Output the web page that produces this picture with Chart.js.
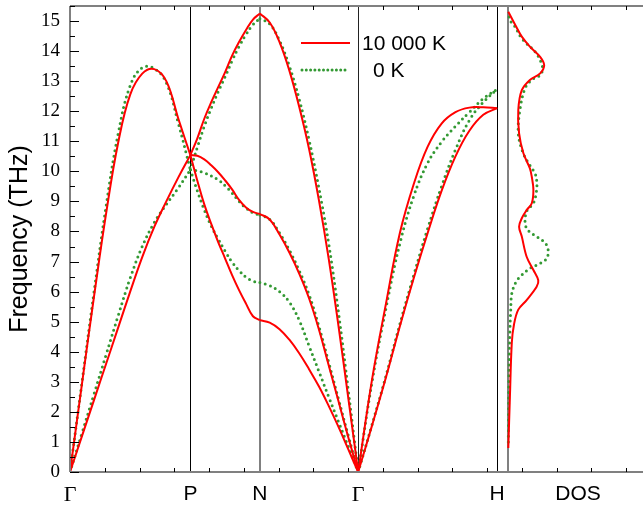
<!DOCTYPE html>
<html>
<head>
<meta charset="utf-8">
<script src="https://cdn.jsdelivr.net/npm/chart.js@4.4.0/dist/chart.umd.min.js"></script>
<style>
  html, body { margin: 0; padding: 0; background: #fff; }
  #wrap { width: 643px; height: 507px; }
</style>
</head>
<body>
<div id="wrap"><canvas id="chart" width="643" height="507"></canvas></div>
<script>
// path through the bcc zone: G-P-N-G-H (lengths in 2pi/a)
const K_POS = [0, 0.866, 1.366, 2.073, 3.073];
const K_LABELS = ['Γ', 'P', 'N', 'Γ', 'H'];
const DOS_LABEL = 'DOS';
const DOS_LABEL_POS = 3.655;
const DOS_X0 = 3.151;     // where the DOS panel starts on the path axis
const X_MAX = 4.122;
const DOS_AXIS_MAX = 5;
const Y_TICKS = [0, 1, 2, 3, 4, 5, 6, 7, 8, 9, 10, 11, 12, 13, 14, 15];
const Y_MAX = 15.5;
const LEGEND_LABELS = ['10 000 K', '0 K'];

// fraction along each segment for the sampled frequencies below
const T_FRAC = [0, 0.1, 0.2, 0.3, 0.4, 0.5, 0.6, 0.7, 0.8, 0.9, 1];

// 10 000 K (THz)
const HOT_GP = [
    [0, 2.95, 5.85, 8.6, 10.95, 12.55, 13.25, 13.4, 13.0, 11.75, 10.54],
    [0, 1.2, 2.4, 3.6, 4.8, 6.0, 7.15, 8.15, 9.0, 9.8, 10.54]
];
const HOT_PN = [
    [10.54, 11.1, 11.75, 12.3, 12.8, 13.3, 13.85, 14.3, 14.7, 15.05, 15.25],
    [10.54, 10.52, 10.4, 10.2, 9.97, 9.7, 9.4, 9.05, 8.8, 8.65, 8.58],
    [10.54, 9.69, 8.9, 8.25, 7.65, 7.1, 6.55, 6.05, 5.6, 5.18, 5.05]
];
const HOT_NG = [
    [15.25, 14.95, 14.3, 13.35, 12.15, 10.75, 9.05, 7.1, 4.85, 2.45, 0],
    [8.58, 8.4, 7.9, 7.3, 6.6, 5.78, 4.75, 3.55, 2.35, 1.15, 0],
    [5.05, 4.97, 4.75, 4.4, 3.95, 3.42, 2.85, 2.2, 1.5, 0.75, 0]
];
const HOT_GH = [
    [0, 3.08, 5.6, 7.95, 9.58, 10.82, 11.59, 11.97, 12.12, 12.13, 12.1],
    [0, 1.55, 3.15, 4.85, 6.45, 7.95, 9.35, 10.5, 11.35, 11.88, 12.1]
];

// 0 K (THz)
const COLD_GP = [
    [0, 3.0, 6.0, 8.85, 11.25, 12.85, 13.45, 13.42, 12.95, 11.6, 10.05],
    [0, 1.3, 2.6, 3.9, 5.2, 6.45, 7.5, 8.3, 8.9, 9.45, 10.05]
];
const COLD_PN = [
    [10.05, 10.8, 11.5, 12.1, 12.65, 13.15, 13.68, 14.15, 14.55, 14.88, 15.08],
    [10.05, 10.02, 9.95, 9.85, 9.72, 9.52, 9.28, 9.0, 8.78, 8.62, 8.55],
    [10.05, 9.35, 8.72, 8.18, 7.75, 7.35, 6.98, 6.7, 6.48, 6.35, 6.3]
];
const COLD_NG = [
    [15.08, 14.9, 14.35, 13.5, 12.4, 11.05, 9.45, 7.6, 5.3, 2.7, 0],
    [8.55, 8.4, 7.95, 7.38, 6.7, 5.9, 4.85, 3.65, 2.42, 1.2, 0],
    [6.3, 6.2, 6.0, 5.65, 5.05, 4.2, 3.35, 2.5, 1.67, 0.84, 0]
];
const COLD_GH = [
    [0, 3.0, 5.45, 7.6, 9.18, 10.28, 10.98, 11.5, 11.97, 12.42, 12.73],
    [0, 1.58, 3.2, 4.92, 6.55, 8.1, 9.5, 10.72, 11.7, 12.3, 12.73]
];

// phonon DOS (arb. units) vs frequency (THz)
const HOT_DOS_FREQ = [0.8, 2.5, 4.3, 4.9, 5.4, 5.72, 6.16, 6.38, 6.72, 7.16, 7.83, 8.16, 8.44, 8.71, 8.94, 9.38,
    9.82, 10.1, 10.6, 11.26, 12.04, 12.7, 13.04, 13.26, 13.53, 13.81, 14.15, 14.48, 14.8, 15.31];
const HOT_DOS = [0.01, 0.07, 0.14, 0.22, 0.38, 0.69, 1.06, 1.12, 0.94, 0.69, 0.51, 0.41, 0.51, 0.69, 0.88, 0.94,
    0.88, 0.81, 0.57, 0.41, 0.38, 0.51, 0.81, 1.19, 1.34, 1.19, 0.81, 0.51, 0.31, 0.01];
const COLD_DOS_FREQ = [1.0, 2.0, 3.0, 4.0, 4.72, 5.39, 5.94, 6.33, 6.55, 6.77, 6.94, 7.1, 7.33, 7.55, 7.72, 7.83,
    7.94, 8.1, 8.38, 8.71, 8.94, 9.38, 9.71, 9.93, 10.3, 10.65, 11.26, 12.04, 12.76, 13.05, 13.2, 13.43,
    13.7, 13.98, 14.42, 14.81, 15.03, 15.3];
const COLD_DOS = [0.01, 0.02, 0.03, 0.05, 0.07, 0.10, 0.14, 0.30, 0.51, 0.81, 1.19, 1.43, 1.49, 1.43, 1.25, 1.06,
    0.88, 0.69, 0.63, 0.71, 0.94, 1.06, 1.06, 1.0, 0.74, 0.54, 0.38, 0.44, 0.63, 0.89, 1.19, 1.28,
    1.19, 1.0, 0.51, 0.26, 0.07, 0.02];

const HOT_STYLE = { borderColor: '#ff0000', borderWidth: 2 };
const COLD_STYLE = { borderColor: '#339933', borderWidth: 3, borderDash: [0, 5.5], borderCapStyle: 'round' };

function segmentPoints(seg, values) {
    const a = K_POS[seg], b = K_POS[seg + 1];
    return values.map((v, i) => ({ x: a + (b - a) * T_FRAC[i], y: v }));
}

function bandDatasets(segments, style) {
    const out = [];
    segments.forEach((branches, seg) => {
        branches.forEach(vals => {
            out.push({
                data: segmentPoints(seg, vals),
                showLine: true,
                pointRadius: 0,
                tension: 0.4,
                ...style
            });
        });
    });
    return out;
}

function dosDataset(freq, dos, style) {
    return {
        data: freq.map((f, i) => ({ x: dos[i], y: f })),
        xAxisID: 'xd',
        showLine: true,
        pointRadius: 0,
        tension: 0.35,
        ...style
    };
}

const datasets = [
    ...bandDatasets([HOT_GP, HOT_PN, HOT_NG, HOT_GH], HOT_STYLE),
    dosDataset(HOT_DOS_FREQ, HOT_DOS, HOT_STYLE),
    ...bandDatasets([COLD_GP, COLD_PN, COLD_NG, COLD_GH], COLD_STYLE),
    dosDataset(COLD_DOS_FREQ, COLD_DOS, COLD_STYLE)
];

const X_LABELS = K_LABELS.concat([DOS_LABEL]);
const SANS = "'Liberation Sans', Arial, sans-serif";
const SERIF = "'Liberation Serif', 'Times New Roman', serif";

// frame, inner ticks, symmetry lines and legend
const framePlugin = {
    id: 'frame',
    beforeDatasetsDraw(chart) {
        const { ctx, chartArea: a, scales: { x } } = chart;
        ctx.save();
        const lines = [
            [K_POS[1], '#000', 1], [K_POS[2], '#808080', 2], [K_POS[3], '#222', 1],
            [K_POS[4], '#000', 1], [DOS_X0, '#808080', 2]
        ];
        lines.forEach(([v, c, w]) => {
            const px = Math.round(x.getPixelForValue(v)) + (w === 1 ? 0.5 : 0);
            ctx.strokeStyle = c;
            ctx.lineWidth = w;
            ctx.beginPath();
            ctx.moveTo(px, a.top);
            ctx.lineTo(px, a.bottom);
            ctx.stroke();
        });
        ctx.restore();
    },
    afterDatasetsDraw(chart) {
        const { ctx, chartArea: a, scales: { x, y } } = chart;
        ctx.save();
        // axis lines
        ctx.strokeStyle = '#808080';
        ctx.lineWidth = 2;
        ctx.beginPath();
        ctx.moveTo(a.left, a.top);
        ctx.lineTo(a.right, a.top);
        ctx.moveTo(a.left, a.bottom);
        ctx.lineTo(a.right, a.bottom);
        ctx.moveTo(a.left, a.top);
        ctx.lineTo(a.left, a.bottom);
        ctx.stroke();

        ctx.strokeStyle = '#000';
        ctx.lineWidth = 1;
        ctx.beginPath();
        // x ticks every 0.25 on top and bottom, pointing in
        for (let v = 0.25; v < X_MAX; v += 0.25) {
            const px = Math.round(x.getPixelForValue(v)) + 0.5;
            ctx.moveTo(px, a.bottom);
            ctx.lineTo(px, a.bottom - 4);
            ctx.moveTo(px, a.top);
            ctx.lineTo(px, a.top + 4);
        }
        // y ticks, major and minor
        Y_TICKS.forEach(t => {
            const py = Math.round(y.getPixelForValue(t)) + 0.5;
            ctx.moveTo(a.left, py);
            ctx.lineTo(a.left + 9, py);
            const pm = Math.round(y.getPixelForValue(t + 0.5)) + 0.5;
            ctx.moveTo(a.left, pm);
            ctx.lineTo(a.left + 5, pm);
        });
        ctx.stroke();

        // legend
        const lx = a.left + 231, ly1 = a.top + 37, ly2 = a.top + 64;
        ctx.setLineDash([]);
        ctx.lineCap = 'butt';
        ctx.strokeStyle = HOT_STYLE.borderColor;
        ctx.lineWidth = HOT_STYLE.borderWidth;
        ctx.beginPath();
        ctx.moveTo(lx, ly1);
        ctx.lineTo(lx + 49, ly1);
        ctx.stroke();
        ctx.strokeStyle = COLD_STYLE.borderColor;
        ctx.lineWidth = COLD_STYLE.borderWidth;
        ctx.setLineDash([0, 4.3]);
        ctx.lineCap = 'round';
        ctx.beginPath();
        ctx.moveTo(lx + 1, ly2);
        ctx.lineTo(lx + 48, ly2);
        ctx.stroke();
        ctx.setLineDash([]);
        ctx.fillStyle = '#000';
        ctx.font = '21px ' + SANS;
        ctx.textBaseline = 'middle';
        ctx.textAlign = 'left';
        ctx.fillText(LEGEND_LABELS[0], lx + 61, ly1 + 1);
        ctx.fillText(LEGEND_LABELS[1], lx + 72, ly2 + 1);
        ctx.restore();
    }
};

function noPad(s) {
    s.paddingTop = 0;
    s.paddingBottom = 0;
    s.paddingLeft = 0;
    s.paddingRight = 0;
}

new Chart(document.getElementById('chart'), {
    type: 'scatter',
    data: { datasets },
    options: {
        responsive: false,
        animation: false,
        events: [],
        layout: { padding: { top: 6, right: 0, left: 0, bottom: 0 } },
        plugins: { legend: { display: false }, tooltip: { enabled: false } },
        scales: {
            x: {
                type: 'linear',
                min: 0,
                max: X_MAX,
                grid: { display: false, drawTicks: false },
                border: { display: false },
                afterFit: s => { s.height = 35; noPad(s); },
                afterBuildTicks: s => { s.ticks = K_POS.concat([DOS_LABEL_POS]).map(v => ({ value: v })); },
                ticks: {
                    autoSkip: false,
                    maxRotation: 0,
                    padding: 10,
                    color: '#000',
                    callback: (v, i) => X_LABELS[i],
                    font: c => X_LABELS[c.index] === 'Γ'
                        ? { family: SERIF, size: 22 }
                        : { family: SANS, size: 21 }
                }
            },
            xd: {
                type: 'linear',
                display: false,
                min: -DOS_X0 / (X_MAX - DOS_X0) * DOS_AXIS_MAX,
                max: DOS_AXIS_MAX
            },
            y: {
                min: 0,
                max: Y_MAX,
                grid: { display: false, drawTicks: false },
                border: { display: false },
                afterFit: s => { s.width = 70; noPad(s); },
                afterBuildTicks: s => { s.ticks = Y_TICKS.map(v => ({ value: v })); },
                ticks: {
                    padding: 10,
                    color: '#000',
                    font: { family: SERIF, size: 19 }
                },
                title: {
                    display: true,
                    text: 'Frequency (THz)',
                    color: '#000',
                    font: { family: SANS, size: 25 },
                    padding: { top: 5, bottom: 0 }
                }
            }
        }
    },
    plugins: [framePlugin]
});
</script>
</body>
</html>
